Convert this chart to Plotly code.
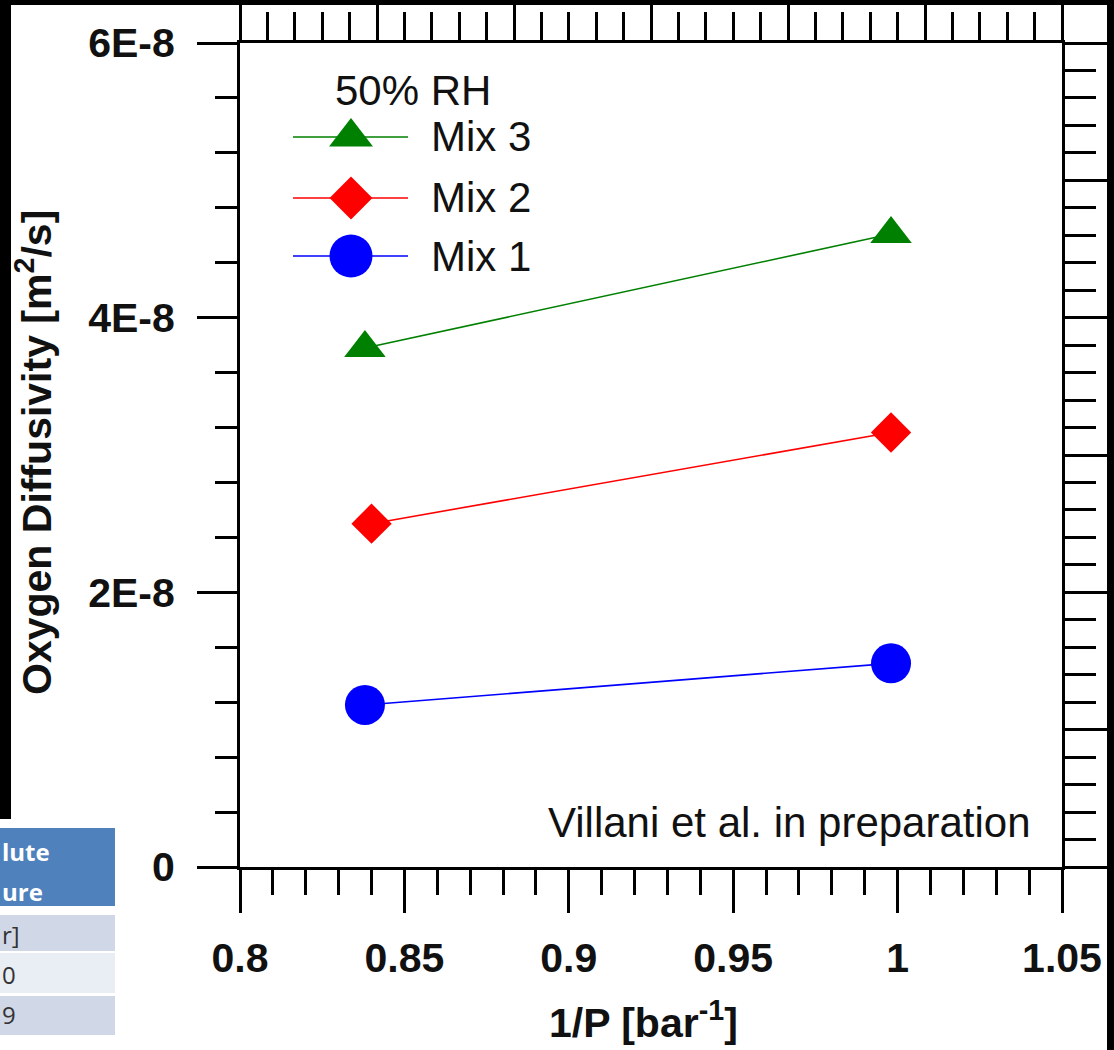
import plotly.graph_objects as go

# ---- data -------------------------------------------------------------
mix1_x = [0.838, 0.998]
mix1_y = [1.180e-8, 1.483e-8]
mix2_x = [0.840, 0.998]
mix2_y = [2.500e-8, 3.164e-8]
mix3_x = [0.838, 0.998]
mix3_y = [3.779e-8, 4.609e-8]

x_tick_vals = [0.8, 0.85, 0.9, 0.95, 1.0, 1.05]
x_tick_text = ["0.8", "0.85", "0.9", "0.95", "1", "1.05"]
y_tick_vals = [0, 2e-8, 4e-8, 6e-8]
y_tick_text = ["0", "2E-8", "4E-8", "6E-8"]

legend_title = "50% RH"
legend_names = ["Mix 3", "Mix 2", "Mix 1"]
table_header = ["lute", "ure"]
table_rows = ["r]", "0", "9"]

# ---- page geometry (pixels) ---------------------------------------------
W, H = 1114, 1050
L, R, T, B = 240, 1062, 43, 867


def px(X):
    return (X - L) / (R - L)


def py(Y):
    return (B - Y) / (B - T)


FONT = "Liberation Sans, Arial, sans-serif"

series = [
    ("Mix 1", mix1_x, mix1_y, "#0000ff", "circle", 40),
    ("Mix 2", mix2_x, mix2_y, "#ff0000", "diamond", 31),
    ("Mix 3", mix3_x, mix3_y, "#008000", "triangle-up", 36),
]

fig = go.Figure()
for name, xs, ys, col, sym, size in series:
    fig.add_trace(go.Scatter(
        x=xs, y=ys, name=name, mode="lines+markers",
        line=dict(color=col, width=1.6),
        marker=dict(symbol=sym, size=size, color=col, line=dict(width=0)),
        showlegend=False, cliponaxis=False,
    ))

# empty trace so the top / right tick axes are drawn
fig.add_trace(go.Scatter(x=[], y=[], xaxis="x2", yaxis="y2",
                         showlegend=False, hoverinfo="skip"))

# hand-drawn legend (long sample lines with large symbols)
legend_rows = [
    (legend_names[0], "#008000", "triangle-up", 38, 137),
    (legend_names[1], "#ff0000", "diamond", 33, 198),
    (legend_names[2], "#0000ff", "circle", 43, 256),
]
annotations = []
for name, col, sym, size, Yc in legend_rows:
    fig.add_trace(go.Scatter(
        x=[px(293), px(408)], y=[py(Yc), py(Yc)], mode="lines",
        line=dict(color=col, width=1.6), xaxis="x3", yaxis="y3",
        showlegend=False, hoverinfo="skip"))
    fig.add_trace(go.Scatter(
        x=[px(351)], y=[py(Yc)], mode="markers",
        marker=dict(symbol=sym, size=size, color=col, line=dict(width=0)),
        xaxis="x3", yaxis="y3", showlegend=False, hoverinfo="skip",
        cliponaxis=False))
    annotations.append(dict(
        x=px(429), y=py(Yc), xref="paper", yref="paper", text=name,
        showarrow=False, xanchor="left", yanchor="middle",
        font=dict(family=FONT, size=42, color="#111")))

annotations.append(dict(
    x=px(333), y=py(90), xref="paper", yref="paper", text=legend_title,
    showarrow=False, xanchor="left", yanchor="middle",
    font=dict(family=FONT, size=42, color="#111")))

annotations.append(dict(
    x=px(1033), y=py(822), xref="paper", yref="paper",
    text="Villani et al. in preparation",
    showarrow=False, xanchor="right", yanchor="middle",
    font=dict(family=FONT, size=42, color="#111")))

# axis titles
annotations.append(dict(
    x=px(34), y=py(452), xref="paper", yref="paper",
    text="Oxygen Diffusivity [m<sup>2</sup>/s]", textangle=-90,
    showarrow=False, xanchor="center", yanchor="middle",
    font=dict(family=FONT, size=41, color="#111", weight="bold")))
annotations.append(dict(
    x=px(643), y=py(1048), xref="paper", yref="paper",
    text="1/P [bar<sup>-1</sup>]",
    showarrow=False, xanchor="center", yanchor="bottom",
    font=dict(family=FONT, size=41, color="#111", weight="bold")))

# table fragment at the lower left
shapes = []
table_fill = ["#4f81bd", "#d0d8e8", "#e9edf4", "#d0d8e8"]
table_bands = [(828, 906), (915, 951), (953, 993), (996, 1035)]
for (y0, y1), fc in zip(table_bands, table_fill):
    shapes.append(dict(type="rect", xref="paper", yref="paper",
                       x0=px(0), x1=px(115), y0=py(y1), y1=py(y0),
                       fillcolor=fc, line=dict(width=0), layer="above"))
for txt, Yc in zip(table_header, [851, 891]):
    annotations.append(dict(
        x=px(0), y=py(Yc), xref="paper", yref="paper", text=txt,
        showarrow=False, xanchor="left", yanchor="middle",
        font=dict(family="Open Sans, sans-serif", size=24, color="white",
                  weight="bold")))
for txt, Yc in zip(table_rows, [934, 974, 1015]):
    annotations.append(dict(
        x=px(0), y=py(Yc), xref="paper", yref="paper", text=txt,
        showarrow=False, xanchor="left", yanchor="middle",
        font=dict(family="Open Sans, sans-serif", size=24, color="#333")))

# dark frame strips around the page
for x0, x1, y0, y1 in [(0, W, 0, 5), (0, 11, 0, 819), (1107, W, 0, H)]:
    shapes.append(dict(type="rect", xref="paper", yref="paper",
                       x0=px(x0), x1=px(x1), y0=py(y1), y1=py(y0),
                       fillcolor="black", line=dict(width=0), layer="above"))

tickfont = dict(family=FONT, size=41, color="#111", weight="bold")
common = dict(showgrid=False, zeroline=False, showline=True, linewidth=3,
              linecolor="black", ticks="outside", tickwidth=3,
              tickcolor="black", automargin=False)

fig.update_layout(
    template="none",
    width=W, height=H, autosize=False,
    margin=dict(l=L, r=W - R, t=T, b=H - B, pad=0),
    paper_bgcolor="white", plot_bgcolor="white",
    showlegend=False,
    xaxis=dict(range=[0.8, 1.05], tickmode="array", tickvals=x_tick_vals,
               ticktext=x_tick_text, ticklen=43, tickfont=tickfont,
               ticklabelstandoff=10,
               minor=dict(tick0=0.8, dtick=0.01, ticklen=25, tickwidth=3,
                          tickcolor="black", ticks="outside"),
               **common),
    yaxis=dict(range=[0, 6e-8], tickmode="array", tickvals=y_tick_vals,
               ticktext=y_tick_text, ticklen=40, tickfont=tickfont,
               ticklabelstandoff=14,
               minor=dict(tick0=0, dtick=0.4e-8, ticklen=22, tickwidth=3,
                          tickcolor="black", ticks="outside"),
               **common),
    xaxis2=dict(overlaying="x", side="top", anchor="y", range=[0, 6],
                tickmode="linear", tick0=0, dtick=1, ticklen=38,
                showticklabels=False,
                minor=dict(dtick=0.2, ticklen=28, tickwidth=3,
                           tickcolor="black", ticks="outside"),
                **common),
    yaxis2=dict(overlaying="y", side="right", anchor="x", range=[0, 6],
                tickmode="linear", tick0=0, dtick=1, ticklen=45,
                showticklabels=False,
                minor=dict(dtick=0.2, ticklen=31, tickwidth=3,
                           tickcolor="black", ticks="outside"),
                **common),
    xaxis3=dict(overlaying="x", range=[0, 1], visible=False),
    yaxis3=dict(overlaying="y", range=[0, 1], visible=False, anchor="x3"),
    annotations=annotations,
    shapes=shapes,
)

fig.write_html("out.html")
